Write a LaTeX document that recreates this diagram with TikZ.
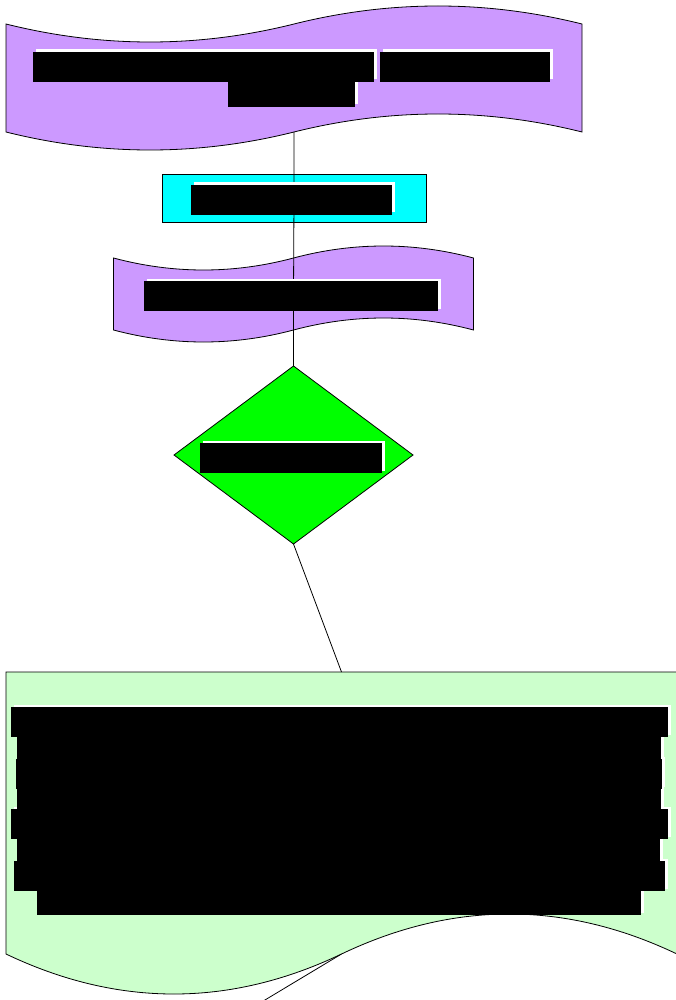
\documentclass[tikz,border=0pt]{standalone}
\usetikzlibrary{shapes.geometric}

\definecolor{lilac}{HTML}{CC99FF}
\definecolor{aqua}{HTML}{00FFFF}
\definecolor{lime}{HTML}{00FF00}
\definecolor{mint}{HTML}{CCFFCC}

\tikzset{
  frame/.style={draw=none, inner sep=0pt, outer sep=0pt},
  outline/.style={draw=black, line width=0.8pt},
  link/.style={draw=black, line width=0.8pt},
}

% Wavy banner (tape): name, left, top, right, bottom, wave amplitude, fill
\newcommand{\tapeblock}[7]{%
  \pgfmathsetmacro{\tapeW}{#4-#2}%
  \pgfmathsetmacro{\tapeA}{4*#6/3}%
  \path[outline, fill=#7]
    (#2,#3) .. controls ({#2+\tapeW/6},{#3+\tapeA}) and ({#2+\tapeW/3},{#3+\tapeA}) .. ({#2+\tapeW/2},#3)
            .. controls ({#2+2*\tapeW/3},{#3-\tapeA}) and ({#2+5*\tapeW/6},{#3-\tapeA}) .. (#4,#3)
    -- (#4,#5)
            .. controls ({#2+5*\tapeW/6},{#5-\tapeA}) and ({#2+2*\tapeW/3},{#5-\tapeA}) .. ({#2+\tapeW/2},#5)
            .. controls ({#2+\tapeW/3},{#5+\tapeA}) and ({#2+\tapeW/6},{#5+\tapeA}) .. (#2,#5)
    -- cycle;
  \node[frame, minimum width={(#4-#2)*1pt}, minimum height={(#5-#3)*1pt}] (#1) at ({(#2+#4)/2},{(#3+#5)/2}) {};
}

% Document sheet with a wavy lower edge: name, left, top, right, bottom, amplitude, fill
\newcommand{\docblock}[7]{%
  \pgfmathsetmacro{\tapeW}{#4-#2}%
  \pgfmathsetmacro{\tapeA}{4*#6/3}%
  \path[outline, fill=#7]
    (#2,#3) -- (#4,#3) -- (#4,#5)
            .. controls ({#2+5*\tapeW/6},{#5-\tapeA}) and ({#2+2*\tapeW/3},{#5-\tapeA}) .. ({#2+\tapeW/2},#5)
            .. controls ({#2+\tapeW/3},{#5+\tapeA}) and ({#2+\tapeW/6},{#5+\tapeA}) .. (#2,#5)
    -- cycle;
  \node[frame, minimum width={(#4-#2)*1pt}, minimum height={(#5-#3)*1pt}] (#1) at ({(#2+#4)/2},{(#3+#5)/2}) {};
}

% Blacked-out label strip and its white halo
\newcommand{\inkbox}[4]{\fill[black] (#1,#2) rectangle (#3,#4);}
\newcommand{\halobox}[4]{\fill[white] ({#1+2.5},{#2-2.5}) rectangle ({#3+2.5},{#4-2.5});}

\begin{document}
\begin{tikzpicture}[x=1pt, y=-1pt]
  \useasboundingbox (0,0) rectangle (676,1000);

  % shapes
  \tapeblock{intro}{6}{24}{582}{132}{18}{lilac}
  \node[rectangle, outline, fill=aqua, minimum width=264pt, minimum height=48pt,
        inner sep=0pt, outer sep=0pt] (step1) at (294,198) {};
  \tapeblock{mid}{113.5}{258}{473.5}{330}{12}{lilac}
  \node[diamond, outline, fill=lime, minimum width=239pt, minimum height=178pt,
        inner sep=0pt, outer sep=0pt] (check) at (293.5,455) {};
  \docblock{notes}{6}{672}{677}{954}{40}{mint}
  \coordinate (beyond) at (230,1021);

  % connectors
  \draw[link] (intro.south) -- (step1.center) -- (mid.center) -- (check.north);
  \draw[link] (check.south) -- (notes.north);
  \draw[link] (notes.south) -- (beyond);

  % label halos
  \halobox{33}{52}{374}{82}
  \halobox{380}{52}{550}{82}
  \halobox{228}{78}{355}{107}
  \halobox{191}{185}{392}{215}
  \halobox{144}{281}{438}{311}
  \halobox{200}{443}{382}{473}
  \halobox{11}{707}{668}{737}
  \halobox{17}{733}{661}{761}
  \halobox{16}{759}{662}{789}
  \halobox{17}{785}{661}{811}
  \halobox{11}{809}{668}{839}
  \halobox{17}{837}{660}{863}
  \halobox{14}{861}{665}{891}
  \halobox{37}{887}{641}{915}

  % labels
  \inkbox{33}{52}{374}{82}
  \inkbox{380}{52}{550}{82}
  \inkbox{228}{78}{355}{107}
  \inkbox{191}{185}{392}{215}
  \inkbox{144}{281}{438}{311}
  \inkbox{200}{443}{382}{473}
  \inkbox{11}{707}{668}{737}
  \inkbox{17}{733}{661}{761}
  \inkbox{16}{759}{662}{789}
  \inkbox{17}{785}{661}{811}
  \inkbox{11}{809}{668}{839}
  \inkbox{17}{837}{660}{863}
  \inkbox{14}{861}{665}{891}
  \inkbox{37}{887}{641}{915}
\end{tikzpicture}
\end{document}
